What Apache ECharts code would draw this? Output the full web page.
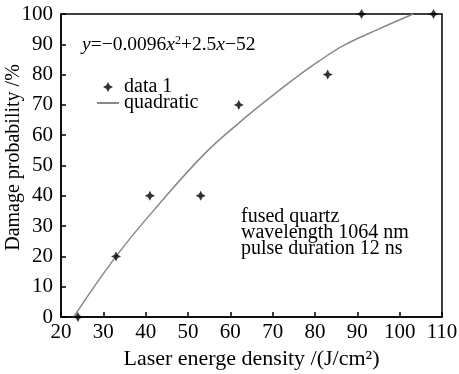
<!DOCTYPE html>
<html>
<head>
<meta charset="utf-8">
<script src="https://cdn.jsdelivr.net/npm/echarts@6/dist/echarts.min.js"></script>
<style>
  html, body { margin: 0; padding: 0; background: #fff; }
  #chart { width: 459px; height: 374px; }
</style>
</head>
<body>
<div id="chart"></div>
<script>
// measured damage points
const dataX = [24, 33, 41, 53, 62, 83, 91, 108];
const dataY = [0, 20, 40, 40, 70, 80, 100, 100];
// fitted quadratic
const fitX = [23, 33, 43, 54, 62, 69, 75, 81, 87, 95, 103.2];
const fitY = [0, 20, 37, 54, 64, 72, 78.5, 84.5, 89.8, 95, 100];
const noteLines = ['fused quartz', 'wavelength 1064 nm', 'pulse duration 12 ns'];

const serif = '"Liberation Serif", "DejaVu Serif", serif';
const star = 'path://M0,-5 L1.7,-1.7 L5,0 L1.7,1.7 L0,5 L-1.7,1.7 L-5,0 L-1.7,-1.7 Z';

const chart = echarts.init(document.getElementById('chart'));
chart.setOption({
  animation: false,
  grid: {
    left: 61, top: 14, right: 17, bottom: 57,
    outerBoundsMode: 'none',
    show: true, borderColor: '#000', borderWidth: 1.5
  },
  legend: {
    orient: 'vertical',
    left: 91, top: 72,
    itemWidth: 22, itemHeight: 10, itemGap: -4,
    textStyle: { fontFamily: serif, fontSize: 20, color: '#000' },
    data: [
      { name: 'data 1' },
      { name: 'quadratic', itemStyle: { opacity: 0 } }
    ]
  },
  xAxis: {
    type: 'value',
    min: 20, max: 110, interval: 10,
    name: 'Laser energe density /(J/cm²)',
    nameLocation: 'middle', nameGap: 26,
    nameTextStyle: { fontFamily: serif, fontSize: 22, color: '#000' },
    axisLine: { lineStyle: { color: '#000', width: 1.5 } },
    axisTick: { inside: true, length: 5, lineStyle: { color: '#000', width: 1.5 } },
    axisLabel: { fontFamily: serif, fontSize: 21, color: '#000', margin: 5 },
    splitLine: { show: false }
  },
  yAxis: {
    type: 'value',
    min: 0, max: 100, interval: 10,
    name: 'Damage probability /%',
    nameLocation: 'middle', nameGap: 37, nameMoveOverlap: false,
    nameTextStyle: { fontFamily: serif, fontSize: 20, color: '#000', padding: [0, 0, 0, 16] },
    axisLine: { show: true, lineStyle: { color: '#000', width: 1.5 } },
    axisTick: { show: true, inside: true, length: 5, lineStyle: { color: '#000', width: 1.5 } },
    axisLabel: { fontFamily: serif, fontSize: 21, color: '#000', margin: 8 },
    splitLine: { show: false }
  },
  series: [
    {
      name: 'quadratic',
      type: 'line',
      data: fitX.map((x, i) => [x, fitY[i]]),
      symbol: 'none',
      smooth: 0.4,
      lineStyle: { color: '#888', width: 1.5 },
      itemStyle: { color: '#888' },
      z: 2
    },
    {
      name: 'data 1',
      type: 'scatter',
      data: dataX.map((x, i) => [x, dataY[i]]),
      symbol: star,
      symbolSize: 10,
      itemStyle: { color: '#000' },
      clip: false,
      z: 3
    }
  ],
  graphic: [
    {
      type: 'text', left: 82, top: 35,
      style: {
        text: '{i|y}=−0.0096{i|x}{s|2}+2.5{i|x}−52',
        fontFamily: serif, fontSize: 19.5, fill: '#000',
        rich: {
          i: { fontFamily: serif, fontSize: 19.5, fontStyle: 'italic' },
          s: { fontFamily: serif, fontSize: 12, verticalAlign: 'top', padding: [0, 0, 8, 0] }
        }
      }
    },
    {
      type: 'text', left: 241, top: 207,
      style: {
        text: noteLines.join('\n'),
        fontFamily: serif, fontSize: 20, lineHeight: 16, fill: '#000'
      }
    }
  ]
});
</script>
</body>
</html>
